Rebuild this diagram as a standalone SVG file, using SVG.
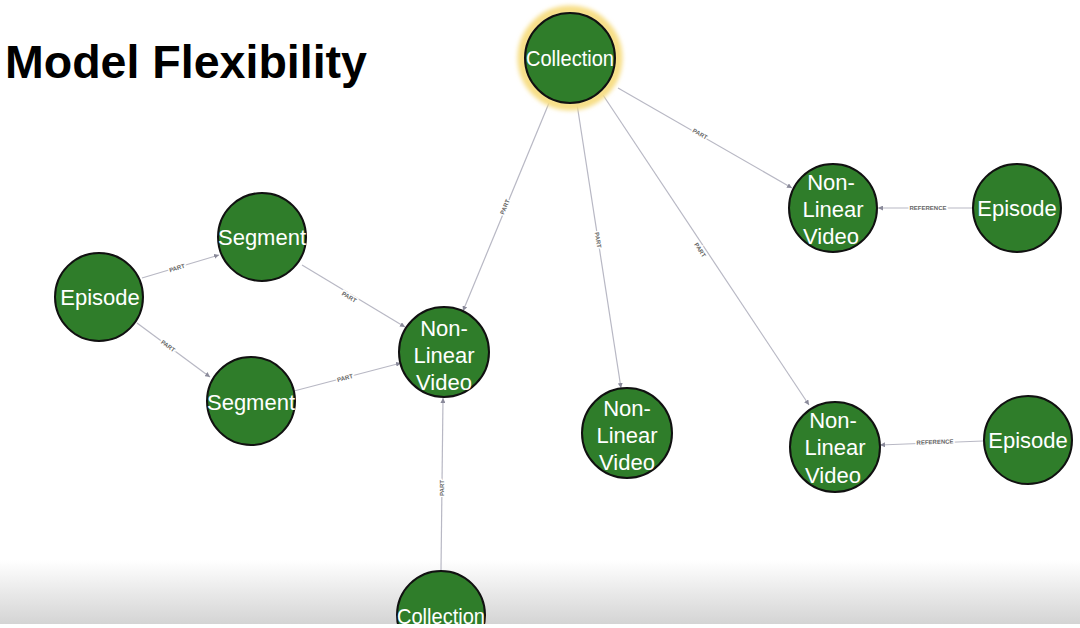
<svg xmlns="http://www.w3.org/2000/svg" width="1080" height="628" viewBox="0 0 1080 628">
<defs>
<linearGradient id="bg" x1="0" y1="0" x2="0" y2="1">
<stop offset="0" stop-color="#ffffff"/>
<stop offset="1" stop-color="#d4d4d4"/>
</linearGradient>
<marker id="arr" viewBox="0 0 10 10" refX="10" refY="5" markerWidth="5" markerHeight="5" orient="auto" markerUnits="userSpaceOnUse">
<path d="M0,0 L10,5 L0,10 z" fill="#8a8a9a"/>
</marker>
<filter id="glow" x="-30%" y="-30%" width="160%" height="160%">
<feGaussianBlur stdDeviation="2"/>
</filter>
<style>
.edge{stroke:#b8b8c4;stroke-width:1.2;fill:none;marker-end:url(#arr)}
.el{font-family:"Liberation Sans",Arial,sans-serif;font-size:6px;font-weight:bold;fill:#666;text-anchor:middle;stroke:#fff;stroke-width:3;paint-order:stroke}
.node circle{fill:#2f7d2a;stroke:#111;stroke-width:2}
.node text{font-family:"Liberation Sans",Arial,sans-serif;font-size:22px;fill:#fff;text-anchor:middle}
.title{font-family:"Liberation Sans",Arial,sans-serif;font-size:47px;font-weight:bold;fill:#000}
</style>
</defs>
<rect width="1080" height="628" fill="#fff"/>
<rect x="0" y="560" width="1080" height="64" fill="url(#bg)"/>
<text class="title" x="5" y="78" textLength="362" lengthAdjust="spacingAndGlyphs">Model Flexibility</text>

<g id="connectors">
<line class="edge" x1="549" y1="103" x2="463" y2="311"/>
<line class="edge" x1="577" y1="104" x2="621" y2="388"/>
<line class="edge" x1="603" y1="95" x2="809" y2="405"/>
<line class="edge" x1="618" y1="88" x2="792" y2="188"/>
<line class="edge" x1="972" y1="208" x2="878" y2="208"/>
<line class="edge" x1="983" y1="441" x2="880" y2="445"/>
<line class="edge" x1="142" y1="278" x2="219" y2="255"/>
<line class="edge" x1="137" y1="323" x2="210" y2="377"/>
<line class="edge" x1="302" y1="265" x2="405" y2="327"/>
<line class="edge" x1="294" y1="391" x2="401" y2="363"/>
<line class="edge" x1="441" y1="570" x2="443" y2="398"/>
<text class="el" transform="translate(505,207) rotate(-67.5)" y="2">PART</text>
<text class="el" transform="translate(598,240) rotate(81)" y="2">PART</text>
<text class="el" transform="translate(700,250) rotate(56.4)" y="2">PART</text>
<text class="el" transform="translate(700,134) rotate(29.9)" y="2">PART</text>
<text class="el" transform="translate(928,208)" y="2">REFERENCE</text>
<text class="el" transform="translate(935,442) rotate(-2)" y="2">REFERENCE</text>
<text class="el" transform="translate(177,268) rotate(-16.6)" y="2">PART</text>
<text class="el" transform="translate(168,346) rotate(36.5)" y="2">PART</text>
<text class="el" transform="translate(349,297) rotate(31)" y="2">PART</text>
<text class="el" transform="translate(345,378) rotate(-14.7)" y="2">PART</text>
<text class="el" transform="translate(442,488) rotate(-89.3)" y="2">PART</text>
</g>

<g id="n-collection-top" class="node">
<circle cx="570" cy="58" r="48" filter="url(#glow)" style="fill:none;stroke:#f7de86;stroke-width:9"/>
<circle cx="570" cy="58" r="45"/>
<text x="570" y="66" textLength="88" lengthAdjust="spacingAndGlyphs">Collection</text>
</g>
<g id="n-nlv-center" class="node">
<circle cx="444" cy="352" r="45"/>
<text x="444" y="336">Non-</text><text x="444" y="363">Linear</text><text x="444" y="390">Video</text>
</g>
<g id="n-episode-left" class="node">
<circle cx="99" cy="297" r="44"/>
<text x="100" y="305">Episode</text>
</g>
<g id="n-segment-top" class="node">
<circle cx="262" cy="237" r="44"/>
<text x="262" y="245">Segment</text>
</g>
<g id="n-segment-bottom" class="node">
<circle cx="251" cy="401" r="44"/>
<text x="251" y="410">Segment</text>
</g>
<g id="n-nlv-mid" class="node">
<circle cx="627" cy="433" r="45"/>
<text x="627" y="416">Non-</text><text x="627" y="443">Linear</text><text x="627" y="470">Video</text>
</g>
<g id="n-nlv-right-top" class="node">
<circle cx="833" cy="208" r="44"/>
<text x="831" y="190">Non-</text><text x="833" y="217">Linear</text><text x="831" y="244">Video</text>
</g>
<g id="n-episode-right-top" class="node">
<circle cx="1017" cy="208" r="44"/>
<text x="1017" y="216">Episode</text>
</g>
<g id="n-nlv-right-bottom" class="node">
<circle cx="835" cy="447" r="45"/>
<text x="833" y="428">Non-</text><text x="835" y="455">Linear</text><text x="833" y="483">Video</text>
</g>
<g id="n-episode-right-bottom" class="node">
<circle cx="1028" cy="440" r="44"/>
<text x="1028" y="448">Episode</text>
</g>
<g id="n-collection-bottom" class="node">
<circle cx="441" cy="615" r="44"/>
<text x="441" y="624" textLength="88" lengthAdjust="spacingAndGlyphs">Collection</text>
</g>
<rect x="0" y="624" width="1080" height="4" fill="#fff"/>
</svg>
